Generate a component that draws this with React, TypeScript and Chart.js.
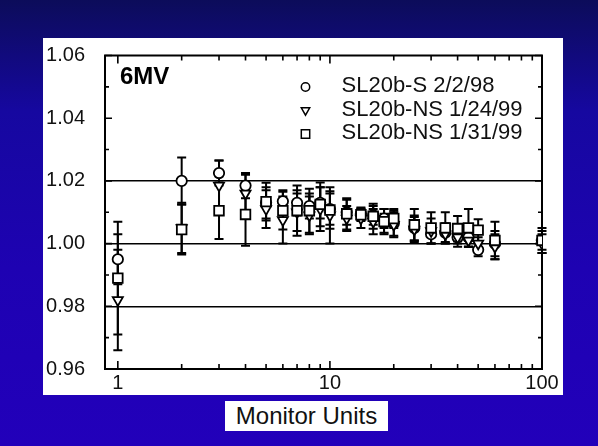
import React, { useEffect, useRef } from 'react';
import { Chart, registerables } from 'chart.js';

Chart.register(...registerables);

// Monitor units at which output was measured
const monitorUnits = [1, 2, 3, 4, 5, 6, 7, 8, 9, 10, 12, 14, 16, 18, 20, 25, 30, 35, 40, 45, 50, 60, 100];

// SL20b-S 2/2/98 (circles)
const seriesS = [0.995, 1.02, 1.0225, 1.0185, 1.013, 1.0135, 1.013, 1.012, 1.013, 1.011, 1.01, 1.0095, 1.009, 1.008, 1.0065, 1.005, 1.003, 1.0035, 1.002, 1.002, 0.998, 1.0, 1.001];
const seriesSErr = [0.008, 0.0075, 0.004, 0.004, 0.005, 0.0035, 0.004, 0.004, 0.005, 0.005, 0.004, 0.002, 0.003, 0.003, 0.004, 0.004, 0.003, 0.003, 0.003, 0.003, 0.002, 0.004, 0.003];

// SL20b-NS 1/24/99 (down triangles)
const seriesNS1 = [0.982, 1.005, 1.0185, 1.016, 1.011, 1.0075, 1.01, 1.009, 1.011, 1.009, 1.008, 1.008, 1.007, 1.0065, 1.006, 1.0045, 1.004, 1.003, 1.002, 1.001, 1.0, 0.999, 1.0];
const seriesNS1Err = [0.016, 0.008, 0.008, 0.006, 0.006, 0.0075, 0.006, 0.006, 0.007, 0.009, 0.004, 0.003, 0.004, 0.003, 0.004, 0.004, 0.004, 0.003, 0.002, 0.002, 0.002, 0.004, 0.003];

// SL20b-NS 1/31/99 (squares)
const seriesNS2 = [0.989, 1.0045, 1.0105, 1.0093, 1.0134, 1.0105, 1.0105, 1.0105, 1.0125, 1.0107, 1.0095, 1.0092, 1.0087, 1.007, 1.008, 1.006, 1.005, 1.005, 1.0048, 1.005, 1.0043, 1.001, 1.001];
const seriesNS2Err = [0.018, 0.008, 0.009, 0.01, 0.006, 0.006, 0.008, 0.007, 0.007, 0.006, 0.005, 0.002, 0.004, 0.004, 0.003, 0.005, 0.005, 0.005, 0.004, 0.006, 0.0035, 0.006, 0.004];

const seriesLabels = ['SL20b-S 2/2/98', 'SL20b-NS 1/24/99', 'SL20b-NS 1/31/99'];
const energyLabel = '6MV';
const xAxisTitle = 'Monitor Units';
const xTickValues = [1, 10, 100];
const referenceLines = [0.98, 1.0, 1.02];

const FONT = "'Liberation Sans', Arial, Helvetica, sans-serif";

const toPoints = (ys: number[]) => monitorUnits.map((x, i) => ({ x, y: ys[i] }));

function drawMarker(ctx: CanvasRenderingContext2D, style: string, x: number, y: number, r: number) {
  ctx.beginPath();
  if (style === 'circle') {
    ctx.arc(x, y, r, 0, Math.PI * 2);
  } else if (style === 'triangle') {
    ctx.moveTo(x - r, y - r * 0.75);
    ctx.lineTo(x + r, y - r * 0.75);
    ctx.lineTo(x, y + r);
    ctx.closePath();
  } else {
    ctx.rect(x - r, y - r, 2 * r, 2 * r);
  }
  ctx.fillStyle = '#fff';
  ctx.fill();
  ctx.stroke();
}

// Vertical error bars with caps, drawn behind the markers
const errorBarPlugin = {
  id: 'errorBars',
  beforeDatasetsDraw(chart: any) {
    const { ctx } = chart;
    const xs = chart.scales.x;
    const ys = chart.scales.y;
    ctx.save();
    ctx.strokeStyle = '#000';
    ctx.lineWidth = 2;
    chart.data.datasets.forEach((ds: any) => {
      ds.data.forEach((p: any, j: number) => {
        const e = ds.errors[j];
        const px = xs.getPixelForValue(p.x);
        const top = ys.getPixelForValue(p.y + e);
        const bot = ys.getPixelForValue(p.y - e);
        ctx.beginPath();
        ctx.moveTo(px, top);
        ctx.lineTo(px, bot);
        ctx.moveTo(px - 4.5, top);
        ctx.lineTo(px + 4.5, top);
        ctx.moveTo(px - 4.5, bot);
        ctx.lineTo(px + 4.5, bot);
        ctx.stroke();
      });
    });
    ctx.restore();
  },
};

// Box frame with inward-pointing tick marks on all four sides
const framePlugin = {
  id: 'frame',
  beforeDatasetsDraw(chart: any) {
    const { ctx, chartArea: a } = chart;
    const xs = chart.scales.x;
    const ys = chart.scales.y;
    ctx.save();
    ctx.strokeStyle = '#000';
    ctx.lineWidth = 1.6;
    ctx.beginPath();
    for (let k = 0; k <= 10; k++) {
      const v = 0.96 + k * 0.01;
      const py = ys.getPixelForValue(v);
      const len = k % 2 === 0 ? 7 : 4;
      ctx.moveTo(a.left, py);
      ctx.lineTo(a.left + len, py);
      ctx.moveTo(a.right, py);
      ctx.lineTo(a.right - len, py);
    }
    const xv: number[] = [];
    [1, 10].forEach((d) => {
      for (let m = 1; m <= 9; m++) xv.push(m * d);
    });
    xv.push(100);
    xv.forEach((v) => {
      if (v < xs.min || v > xs.max) return;
      const px = xs.getPixelForValue(v);
      const len = xTickValues.includes(v) ? 8 : 5;
      ctx.moveTo(px, a.bottom);
      ctx.lineTo(px, a.bottom - len);
      ctx.moveTo(px, a.top);
      ctx.lineTo(px, a.top + len);
    });
    ctx.stroke();
    ctx.lineWidth = 2;
    ctx.strokeRect(a.left, a.top, a.right - a.left, a.bottom - a.top);
    ctx.restore();
  },
  afterDraw(chart: any) {
    const { ctx, chartArea: a } = chart;
    ctx.save();
    ctx.fillStyle = '#000';
    ctx.textBaseline = 'middle';
    ctx.textAlign = 'left';
    ctx.font = `bold 24px ${FONT}`;
    ctx.fillText(energyLabel, a.left + 15, a.top + 22);

    ctx.font = `22px ${FONT}`;
    ctx.strokeStyle = '#000';
    ctx.lineWidth = 1.5;
    const rowY = [30, 54, 77];
    chart.data.datasets.forEach((ds: any, i: number) => {
      const cy = a.top + rowY[i];
      drawMarker(ctx, ds.pointStyle, a.left + 200.5, cy + 1.5, 4.2);
      ctx.fillStyle = '#111';
      ctx.fillText(ds.label, a.left + 236.5, cy);
    });
    ctx.restore();
  },
};

function ChartCanvas() {
  const ref = useRef<HTMLCanvasElement>(null);

  useEffect(() => {
    if (!ref.current) return;
    const chart = new Chart(ref.current, {
      type: 'scatter',
      data: {
        datasets: [
          {
            label: seriesLabels[0],
            data: toPoints(seriesS),
            errors: seriesSErr,
            pointStyle: 'circle',
            pointRadius: 5.2,
            pointBackgroundColor: '#fff',
            pointBorderColor: '#000',
            pointBorderWidth: 1.8,
            order: 2,
          } as any,
          {
            label: seriesLabels[1],
            data: toPoints(seriesNS1),
            errors: seriesNS1Err,
            pointStyle: 'triangle',
            pointRotation: 180,
            pointRadius: 5.8,
            pointBackgroundColor: '#fff',
            pointBorderColor: '#000',
            pointBorderWidth: 1.8,
            order: 1,
          } as any,
          {
            label: seriesLabels[2],
            data: toPoints(seriesNS2),
            errors: seriesNS2Err,
            pointStyle: 'rect',
            pointRadius: 6.8,
            pointBackgroundColor: '#fff',
            pointBorderColor: '#000',
            pointBorderWidth: 1.8,
            order: 0,
          } as any,
        ],
      },
      options: {
        responsive: false,
        animation: false,
        events: [],
        layout: { padding: { top: 17.5, right: 21, left: 0, bottom: 0 } },
        plugins: {
          legend: { display: false },
          tooltip: { enabled: false },
        },
        scales: {
          x: {
            type: 'logarithmic',
            min: 0.87,
            max: 100,
            afterBuildTicks: (s: any) => {
              s.ticks = xTickValues.map((value) => ({ value }));
            },
            afterFit: (s: any) => {
              s.height = 26;
              s.paddingLeft = 0;
              s.paddingRight = 0;
            },
            border: { display: false },
            grid: { display: false, drawTicks: false },
            ticks: {
              padding: 2,
              color: '#111',
              font: { family: FONT, size: 20 },
              autoSkip: false,
              maxRotation: 0,
              callback: (v: any) => String(v),
            },
          },
          y: {
            type: 'linear',
            min: 0.96,
            max: 1.06,
            afterFit: (s: any) => {
              s.width = 62;
              s.paddingTop = 0;
              s.paddingBottom = 0;
            },
            border: { display: false },
            grid: {
              drawTicks: false,
              lineWidth: 1.6,
              color: (c: any) =>
                referenceLines.some((r) => Math.abs(r - c.tick.value) < 1e-6) ? '#000' : 'rgba(0,0,0,0)',
            },
            ticks: {
              stepSize: 0.02,
              padding: 20,
              color: '#111',
              font: { family: FONT, size: 20 },
              callback: (v: any) => Number(v).toFixed(2),
            },
          },
        },
      },
      plugins: [framePlugin, errorBarPlugin],
    });
    return () => chart.destroy();
  }, []);

  return <canvas ref={ref} width={520} height={357} style={{ width: 520, height: 357, display: 'block' }} />;
}

export default function App() {
  return (
    <div
      style={{
        position: 'fixed',
        inset: 0,
        width: 598,
        height: 446,
        overflow: 'hidden',
        background: 'linear-gradient(to bottom, #0c0c5a 0%, #1608a0 25%, #1e02b2 60%, #2200ba 100%)',
      }}
    >
      <div style={{ position: 'absolute', left: 43, top: 38, width: 520, height: 357, background: '#fff' }}>
        <ChartCanvas />
      </div>
      <div
        style={{
          position: 'absolute',
          left: 225,
          top: 401,
          width: 163,
          height: 30,
          background: '#fff',
          color: '#111',
          fontFamily: FONT,
          fontSize: 24,
          lineHeight: '30px',
          textAlign: 'center',
          whiteSpace: 'nowrap',
        }}
      >
        {xAxisTitle}
      </div>
    </div>
  );
}
